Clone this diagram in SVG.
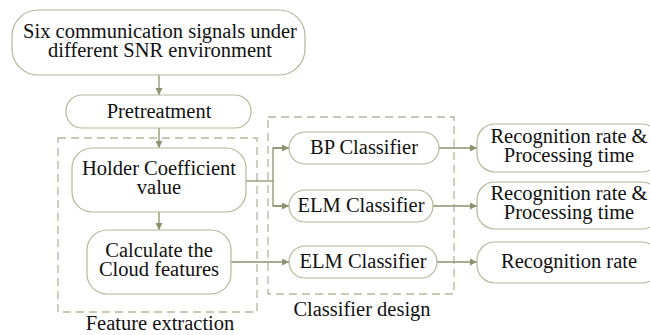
<svg xmlns="http://www.w3.org/2000/svg" width="650" height="335" viewBox="0 0 650 335">
<style>
.box{fill:#fff;stroke:#b3b79b;stroke-width:1.2}
.grp{fill:none;stroke:#b3b79b;stroke-width:1.3;stroke-dasharray:8,5}
.t{font-family:'Liberation Serif','DejaVu Serif','Times New Roman',serif;font-size:20.5px;fill:#111;text-anchor:middle}
.c{fill:none;stroke:#8c916f;stroke-width:1.3}
</style>
<defs>
<marker id="ah" viewBox="0 0 10 10" refX="10" refY="5" markerWidth="9" markerHeight="7" markerUnits="userSpaceOnUse" orient="auto">
<path d="M0,0 L10,5 L0,10 z" fill="#8c916f"/>
</marker>
</defs>
<g id="feature-extraction">
<rect class="grp" x="58" y="138" width="199" height="174"/>
<text class="t" font-family="Liberation Serif, serif" x="160" y="330">Feature extraction</text>
</g>
<g id="classifier-design">
<rect class="grp" x="268" y="117" width="186" height="177"/>
<text class="t" font-family="Liberation Serif, serif" x="362" y="316">Classifier design</text>
</g>
<g id="connectors">
<line class="c" x1="159" y1="75" x2="159" y2="95" marker-end="url(#ah)"/>
<line class="c" x1="159" y1="128" x2="159" y2="148" marker-end="url(#ah)"/>
<line class="c" x1="159" y1="212" x2="159" y2="230" marker-end="url(#ah)"/>
<polyline class="c" points="246,181 273,181"/>
<polyline class="c" points="289,148 273,148 273,206 289,206"/>
<line class="c" x1="273" y1="148" x2="289" y2="148" marker-end="url(#ah)"/>
<line class="c" x1="273" y1="206" x2="289" y2="206" marker-end="url(#ah)"/>
<line class="c" x1="231" y1="262" x2="289" y2="262" marker-end="url(#ah)"/>
<line class="c" x1="439" y1="148" x2="477" y2="148" marker-end="url(#ah)"/>
<line class="c" x1="433" y1="206" x2="477" y2="206" marker-end="url(#ah)"/>
<line class="c" x1="437" y1="262" x2="477" y2="262" marker-end="url(#ah)"/>
</g>
<g id="signals">
<rect class="box" x="12" y="10" width="293" height="65" rx="26"/>
<text class="t" font-family="Liberation Serif, serif" x="160" y="38">Six communication signals under</text>
<text class="t" font-family="Liberation Serif, serif" x="160" y="57">different SNR environment</text>
</g>
<g id="pretreatment">
<rect class="box" x="66" y="95" width="185" height="33" rx="16"/>
<text class="t" font-family="Liberation Serif, serif" x="159" y="118">Pretreatment</text>
</g>
<g id="holder">
<rect class="box" x="72" y="148" width="174" height="64" rx="20"/>
<text class="t" font-family="Liberation Serif, serif" x="159" y="175">Holder Coefficient</text>
<text class="t" font-family="Liberation Serif, serif" x="159" y="194">value</text>
</g>
<g id="cloud">
<rect class="box" x="87" y="230" width="144" height="64" rx="20"/>
<text class="t" font-family="Liberation Serif, serif" x="159" y="257">Calculate the</text>
<text class="t" font-family="Liberation Serif, serif" x="159" y="276">Cloud features</text>
</g>
<g id="bp">
<rect class="box" x="289" y="132" width="150" height="32" rx="16"/>
<text class="t" font-family="Liberation Serif, serif" x="364" y="154">BP Classifier</text>
</g>
<g id="elm1">
<rect class="box" x="289" y="190" width="144" height="32" rx="16"/>
<text class="t" font-family="Liberation Serif, serif" x="361" y="212">ELM Classifier</text>
</g>
<g id="elm2">
<rect class="box" x="289" y="246" width="148" height="32" rx="16"/>
<text class="t" font-family="Liberation Serif, serif" x="363" y="268">ELM Classifier</text>
</g>
<g id="result1">
<rect class="box" x="477" y="124" width="183" height="48" rx="18"/>
<text class="t" font-family="Liberation Serif, serif" x="569" y="143">Recognition rate &amp;</text>
<text class="t" font-family="Liberation Serif, serif" x="569" y="162">Processing time</text>
</g>
<g id="result2">
<rect class="box" x="477" y="182" width="183" height="47" rx="18"/>
<text class="t" font-family="Liberation Serif, serif" x="569" y="200">Recognition rate &amp;</text>
<text class="t" font-family="Liberation Serif, serif" x="569" y="219">Processing time</text>
</g>
<g id="result3">
<rect class="box" x="477" y="242" width="183" height="41" rx="18"/>
<text class="t" font-family="Liberation Serif, serif" x="569" y="268">Recognition rate</text>
</g>
</svg>
